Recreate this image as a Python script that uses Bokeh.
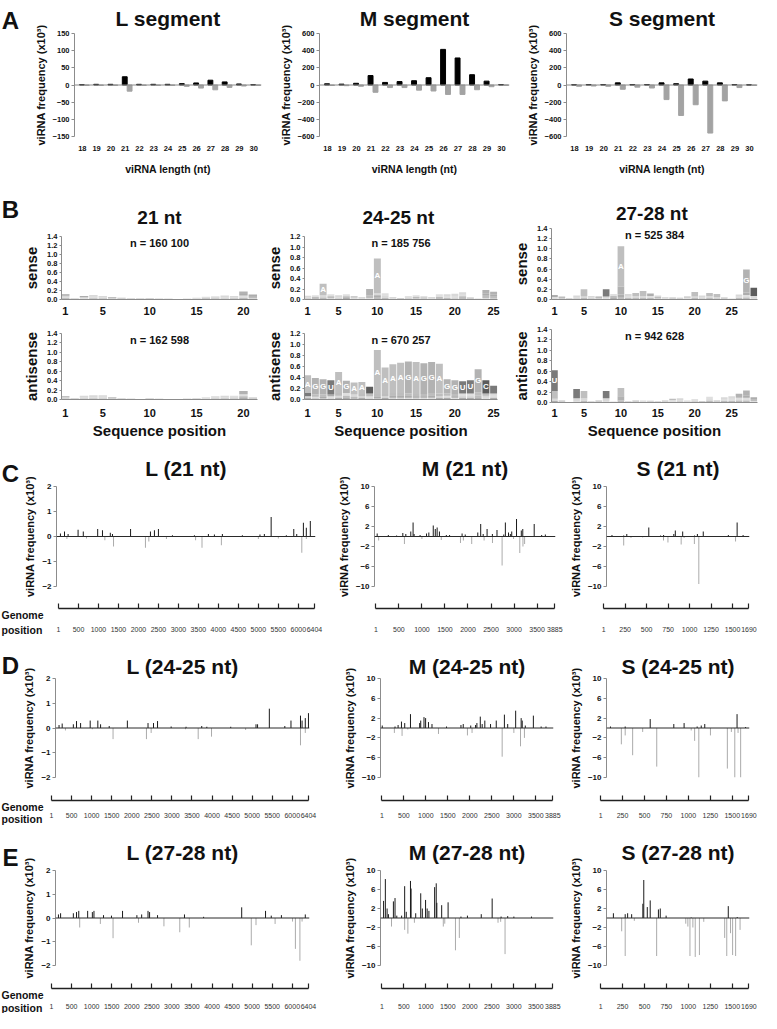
from bokeh.plotting import figure
from bokeh.models import Range1d, FixedTicker, Span, Label, ColumnDataSource, NumeralTickFormatter
from bokeh.layouts import column, row
from bokeh.transform import dodge
from bokeh.embed import file_html
from bokeh.resources import INLINE
from bokeh.core.properties import value

# ---------------- data: panel A (x10^3 reads) ----------------
lengths = [18, 19, 20, 21, 22, 23, 24, 25, 26, 27, 28, 29, 30]
L_len_sense = [1, 2, 2, 24, 2, 2, 2, 4, 6, 14, 9, 3, 1]
L_len_anti = [-1, -1, -1, -18, -1, -1, -1, -4, -9, -14, -7, -3, -1]
M_len_sense = [14, 10, 20, 110, 30, 40, 50, 85, 415, 315, 120, 45, 5]
M_len_anti = [-5, -8, -15, -85, -30, -30, -60, -70, -110, -110, -55, -20, -3]
S_len_sense = [3, 5, 5, 25, 5, 5, 25, 15, 70, 45, 25, 5, 2]
S_len_anti = [-15, -12, -15, -50, -25, -35, -170, -355, -230, -560, -185, -30, -5]
L_len_ticks = [150, 100, 50, 0, -50, -100, -150]
MS_len_ticks = [600, 400, 200, 0, -200, -400, -600]

# ---------------- data: panel B (logo stacks, bits x100, bottom -> top) ----------------
logo21_sense = ["C3 A4 U5", "A1 U1", "G2 A3 C3", "U3 A3 G4", "C2 A3 G3", "U1 A2 C2", "G1 A1 U2",
                "A1 G1 U1", "A1 U1", "A1 C1", "U1 A2", "A1 G1", "A1", "G1 A1", "U1 A2 G1",
                "C1 U2 A3", "G2 U2 A3", "U2 A3 G4", "C2 A3 G3", "U4 A5 C3 G6", "A3 U3 C5"]
logo21_anti = ["U2 A3 C2", "A1 G2", "U2 A3 G3", "C2 A3 G4", "U2 A4 G3", "A2 U2 C1", "A1 U1",
               "A1 G1", "A1", "A1 U1", "G1 A1", "A1", "U1", "A1 G1", "U1 A2", "G2 A3",
               "U2 A3 G2", "C2 A3 G3", "U2 G3 A3", "C3 U4 A4 G7", "A2 U2"]
logo2425_sense = ["U2 A3 G2", "C2 U3 A3", "U4 G4 A22", "G3 U3 A4", "U2 A3 G3", "C3 U3 A4", "G2 A2 U2",
                  "U1 A2 G2", "A3 U5 G12", "U4 C4 G4 A66", "U3 G4 A5", "U1 A2 G2", "A1 U1 G1",
                  "U2 A2 G2", "G2 U3 A3", "A2 U2 G2", "U1 A2 G2", "C2 U3 A5", "U3 A3 G4",
                  "U2 A4 G5", "C2 U4 A3 G5", "A2 U2", "U1 A1", "A3 U5 C3 G7", "A2 U4 C3 G6"]
logo2425_anti = ["C3 G3 U6 A32", "C2 A3 U4 G30", "A2 C3 U4 G28", "G3 A3 C3 U26", "C3 G4 U5 A38",
                 "C3 U4 A5 G22", "C2 U3 G4 A22", "C3 G3 U4 A22", "G3 A3 U5 C12", "G2 C3 U5 A80",
                 "C3 G3 U4 A48", "G3 C4 U5 A52", "G3 C4 U5 A55", "A3 C4 U4 G58", "G3 C3 U4 A58",
                 "A3 C3 U4 G56", "A3 C4 U5 G56", "C3 G3 U5 A54", "C3 A4 U4 G26", "A3 C3 U4 G25",
                 "C3 G4 A4 U22", "C3 G4 A4 U24", "C3 U4 A6 G42", "A3 G4 U4 C24", "C3 A4 G4 U14"]
logo2728_sense = ["G2 A3 C4", "A2 U4", "A1 G2", "U2 A3 G3", "U3 G3 A14", "U2 A3 G2", "A2 U2 C2",
                  "A3 G3 U14", "C3 U4 A4", "U5 C5 G15 A80", "U3 A4 G4", "U3 G4 A6", "U3 G4 A10",
                  "U3 A4 C5", "A2 U3 G3", "G2 A3", "A2 U2", "U2 A2", "G2 A2 U2", "U3 G3 A9",
                  "U2 A3 G3", "U3 G4 A6", "U2 G3 A6", "A2 U2", "U1 A1", "U3 A4 G3",
                  "U4 A5 C5 G45", "A3 G4 C16"]
logo2728_anti = ["C3 G4 A15 U40", "A2 U2", "A1", "A3 G5 U18", "U3 G5 A14", "A1 U1", "A2 U2",
                 "A3 G5 U14", "A2", "U4 G8 A16", "A1 U1", "A2 U2", "A2 G2", "U2 A2", "A1 U1",
                 "U2 A3", "G2 A3 U2", "U2 A3 G3", "A2 G2", "U2 A2 G2", "A2 U1", "U3 G3 A5",
                 "A2 U2", "U3 A3 G4", "U3 A4 G5", "U4 A5 G8", "U4 A5 C4 G10", "A3 U3 C4"]
logo_n = {"21s": "n = 160 100", "21a": "n = 162 598", "2425s": "n = 185 756",
          "2425a": "n = 670 257", "2728s": "n = 525 384", "2728a": "n = 942 628"}

# ---------------- data: panels C-E (genome position, x10^3 reads) ----------------
L_length, M_length, S_length = 6404, 3885, 1690
L_ruler = [1, 500, 1000, 1500, 2000, 2500, 3000, 3500, 4000, 4500, 5000, 5500, 6000, 6404]
M_ruler = [1, 500, 1000, 1500, 2000, 2500, 3000, 3500, 3885]
S_ruler = [1, 250, 500, 750, 1000, 1250, 1500, 1690]
L_gen_ticks = [2, 1, 0, -1, -2]
MS_gen_ticks = [10, 6, 2, -2, -6, -10]

C_L_pos_x = [48, 150, 240, 490, 620, 980, 1100, 1296, 1350, 1803, 2300, 2400, 2500, 2850, 3400, 3750, 3900, 4100, 4600, 5040, 5150, 5320, 5700, 5886, 5960, 6127, 6200, 6300]
C_L_pos_y = [0.12, 0.2, 0.1, 0.27, 0.2, 0.3, 0.25, 0.15, 0.1, 0.3, 0.2, 0.25, 0.3, 0.05, 0.05, 0.1, 0.08, 0.1, 0.05, 0.08, 0.1, 0.78, 0.05, 0.3, 0.1, 0.55, 0.35, 0.62]
C_L_neg_x = [210, 700, 1160, 1377, 2175, 2260, 2700, 3430, 3590, 4075, 5000, 5500, 6087, 6200]
C_L_neg_y = [-0.1, -0.08, -0.15, -0.4, -0.45, -0.2, -0.1, -0.15, -0.45, -0.35, -0.1, -0.08, -0.65, -0.1]

C_M_pos_x = [28, 270, 450, 585, 650, 758, 808, 830, 960, 1100, 1150, 1246, 1290, 1330, 1380, 1530, 1600, 1872, 1940, 2213, 2276, 2330, 2415, 2530, 2630, 2777, 2812, 2880, 2920, 2950, 3054, 3158, 3190, 3438, 3600, 3680]
C_M_pos_y = [0.6, 0.3, 0.2, 0.7, 0.5, 1.0, 2.8, 0.5, 0.3, 0.6, 0.8, 2.2, 1.5, 1.8, 1.0, 0.3, 0.3, 0.6, 0.4, 0.8, 2.5, 0.5, 1.5, 0.5, 1.3, 0.4, 2.8, 0.8, 0.5, 1.0, 3.5, 1.2, 1.5, 2.5, 0.3, 0.4]
C_M_neg_x = [60, 620, 1000, 1420, 1837, 1900, 2081, 2350, 2532, 2741, 2990, 3125, 3194, 3230]
C_M_neg_y = [-0.8, -1.5, -0.5, -0.7, -1.3, -0.8, -1.5, -0.8, -1.3, -5.8, -0.5, -3.3, -2.0, -1.5]

C_S_pos_x = [53, 193, 230, 493, 634, 670, 792, 810, 898, 1040, 1074, 1144, 1444, 1549, 1620]
C_S_pos_y = [0.3, 0.2, 0.5, 1.8, 0.2, 0.3, 0.5, 1.2, 1.0, 0.2, 0.5, 1.0, 0.3, 2.8, 0.3]
C_S_neg_x = [193, 280, 420, 669, 722, 880, 915, 1038, 1091, 1530]
C_S_neg_y = [-1.8, -0.3, -0.2, -0.8, -1.2, -1.6, -0.3, -1.5, -9.5, -1.0]

D_L_pos_x = [40, 120, 405, 486, 590, 835, 1030, 1100, 1320, 1783, 2310, 2450, 2553, 2900, 3280, 3680, 3810, 4420, 5065, 5105, 5405, 5800, 5957, 6200, 6240, 6322, 6403]
D_L_pos_y = [0.12, 0.18, 0.15, 0.28, 0.2, 0.3, 0.3, 0.15, 0.08, 0.3, 0.2, 0.2, 0.28, 0.06, 0.05, 0.08, 0.05, 0.05, 0.15, 0.15, 0.78, 0.08, 0.3, 0.5, 0.3, 0.4, 0.6]
D_L_neg_x = [203, 890, 1418, 2270, 2390, 3266, 3590, 3930, 4800, 6200, 6322]
D_L_neg_y = [-0.1, -0.05, -0.45, -0.45, -0.2, -0.05, -0.45, -0.35, -0.08, -0.7, -0.2]

D_M_pos_x = [10, 300, 370, 446, 520, 651, 860, 884, 958, 995, 1060, 1140, 1470, 1798, 1850, 2020, 2130, 2160, 2237, 2280, 2340, 2470, 2600, 2785, 2860, 3041, 3166, 3190, 3260, 3443, 3620, 3730]
D_M_pos_y = [0.5, 0.3, 0.6, 1.3, 1.0, 2.8, 1.0, 1.5, 2.2, 2.0, 1.2, 0.8, 0.3, 0.6, 0.8, 0.5, 0.6, 1.0, 2.3, 0.8, 1.5, 0.8, 1.5, 2.7, 0.8, 3.5, 2.0, 1.5, 0.5, 2.5, 0.3, 0.3]
D_M_neg_x = [285, 460, 590, 1287, 1945, 2050, 2734, 3000, 3151, 3240]
D_M_neg_y = [-1.0, -1.6, -0.3, -1.2, -1.5, -1.0, -5.8, -1.0, -3.7, -2.0]

D_S_pos_x = [35, 211, 510, 792, 915, 1071, 1120, 1162, 1548, 1650]
D_S_pos_y = [0.3, 0.3, 1.8, 0.8, 1.0, 0.3, 0.5, 0.8, 2.8, 0.2]
D_S_neg_x = [165, 211, 300, 420, 588, 1000, 1041, 1091, 1230, 1432, 1480, 1521, 1560, 1591]
D_S_neg_y = [-3.3, -1.5, -5.5, -0.8, -7.8, -0.5, -2.6, -10.0, -1.5, -8.2, -0.8, -10.0, -1.0, -10.0]

E_L_pos_x = [25, 80, 405, 486, 543, 770, 890, 931, 1175, 1378, 1660, 2026, 2148, 2310, 2350, 2553, 3240, 3728, 4700, 5308, 5454, 5713, 6322]
E_L_pos_y = [0.15, 0.2, 0.2, 0.25, 0.3, 0.3, 0.25, 0.3, 0.12, 0.1, 0.3, 0.12, 0.15, 0.3, 0.25, 0.12, 0.15, 0.05, 0.45, 0.3, 0.1, 0.12, 0.15]
E_L_neg_x = [567, 1094, 1418, 2067, 2716, 3120, 3363, 4944, 5065, 5552, 5997, 6070, 6185, 6240]
E_L_neg_y = [-0.4, -0.25, -0.85, -0.2, -0.35, -0.6, -0.4, -1.15, -0.3, -0.25, -0.15, -1.3, -1.8, -0.15]

E_M_pos_x = [40, 80, 120, 150, 263, 300, 340, 450, 519, 555, 651, 665, 770, 884, 920, 994, 1030, 1070, 1200, 1236, 1250, 1360, 1506, 1798, 1945, 2259, 2507, 2710, 2860, 3000, 3400]
E_M_pos_y = [3.6, 8.2, 2.0, 0.8, 3.5, 4.2, 0.5, 0.5, 6.7, 1.3, 7.8, 6.2, 1.0, 5.2, 2.0, 3.8, 2.0, 1.5, 6.5, 7.3, 3.2, 2.7, 3.3, 0.3, 0.5, 0.8, 4.1, 0.3, 0.4, 0.3, 0.3]
E_M_neg_x = [220, 519, 592, 740, 1397, 1430, 1673, 1761, 2640, 2700, 2800]
E_M_neg_y = [-1.8, -2.5, -3.3, -1.0, -1.8, -1.2, -6.8, -4.2, -1.0, -0.8, -7.6]

E_S_pos_x = [70, 211, 240, 288, 422, 433, 475, 510, 608, 630, 700, 1000, 1443, 1550]
E_S_pos_y = [1.0, 0.8, 1.0, 0.8, 3.0, 8.0, 2.3, 3.7, 1.8, 2.0, 0.5, 0.1, 2.5, 0.2]
E_S_neg_x = [169, 211, 320, 587, 935, 960, 985, 1020, 1048, 1098, 1150, 1400, 1425, 1470, 1495, 1531, 1584]
E_S_neg_y = [-2.8, -8.0, -0.6, -8.0, -1.2, -1.8, -8.0, -2.0, -8.2, -7.8, -0.8, -4.2, -8.0, -3.2, -7.8, -8.0, -2.5]

# ---------------- layout helpers ----------------
SX = 761 / 777
SY = 1013 / 1029
FONT = "Liberation Sans"
INK = "#111111"


def X(v):
    return int(round(v * SX))


def Y(v):
    return int(round(v * SY))


def base_fig(box, frame, x_range, y_range, x_axis="below", y_axis=True, titled=True):
    x0, x1, y0, y1 = box
    fx0, fx1, fy0, fy1 = frame
    p = figure(width=X(x1) - X(x0), height=Y(y1) - Y(y0), x_range=x_range, y_range=y_range,
               output_backend="svg", toolbar_location=None,
               title_location="above" if titled else None,
               x_axis_location=x_axis,
               y_axis_location="left" if y_axis else None)
    p.min_border_left = X(fx0) - X(x0)
    p.min_border_right = X(x1) - X(fx1)
    p.min_border_top = Y(fy0) - Y(y0)
    p.min_border_bottom = Y(y1) - Y(fy1)
    p.outline_line_color = None
    p.grid.visible = False
    p.background_fill_color = "white"
    p.border_fill_color = "white"
    return p


def style_title(t, size, align="center", standoff=0, offset=0):
    t.align = align
    t.offset = offset
    t.text_font = FONT
    t.text_font_style = "bold"
    t.text_font_size = size
    t.text_color = INK
    t.standoff = standoff


def letter_strip(box, letter, center_y):
    """Narrow blank figure whose title is the panel letter."""
    x0, x1, y0, y1 = box
    p = base_fig(box, (x0, x1, center_y + 14, y1), Range1d(0, 1), Range1d(0, 1),
                 x_axis=None, y_axis=False)
    p.title.text = letter
    style_title(p.title, "24px")
    return p


def style_axis(ax, label_size, tick_size, tick_bold=True, line="#8c8c8c"):
    ax.axis_line_color = line
    ax.major_tick_line_color = line
    ax.major_tick_out = 3
    ax.major_tick_in = 0
    ax.minor_tick_line_color = None
    ax.major_label_text_font = FONT
    ax.major_label_text_font_style = "bold" if tick_bold else "normal"
    ax.major_label_text_font_size = tick_size
    ax.major_label_text_color = INK
    ax.axis_label_text_font = FONT
    ax.axis_label_text_font_style = "bold"
    ax.axis_label_text_font_size = label_size
    ax.axis_label_text_color = INK
    ax.major_label_standoff = 2
    ax.axis_label_standoff = 3


def set_title(p, text, size, standoff):
    p.title.text = text
    style_title(p.title, size, standoff=standoff)


STRIP = 20  # width (reference px) of the strip that carries the panel letters

# ---------------- panel A ----------------
def length_panel(name, sense, anti, yticks, box, frame):
    ymax = yticks[0]
    p = base_fig(box, frame, Range1d(17.45, 30.55), Range1d(-ymax, ymax))
    set_title(p, name, "21px", 8)
    src = ColumnDataSource(dict(length=lengths, sense=sense, anti=anti))
    p.vbar(x=dodge("length", -0.03), top="sense", bottom=0, width=0.34, color="#000000", source=src)
    p.vbar(x=dodge("length", 0.31), top="anti", bottom=0, width=0.34, color="#a3a3a3", source=src)
    p.add_layout(Span(location=0, dimension="width", line_color="#8a8a8a", line_width=1))
    style_axis(p.yaxis[0], "11px", "7.5px")
    p.yaxis.ticker = FixedTicker(ticks=yticks)
    p.yaxis.axis_label = "viRNA frequency (x10\u00b3)"
    ax = p.xaxis[0]
    style_axis(ax, "10.5px", "7.5px")
    ax.ticker = FixedTicker(ticks=lengths)
    ax.axis_line_color = None
    ax.major_tick_line_color = None
    ax.major_label_standoff = 6
    ax.axis_label_standoff = 9
    ax.axis_label = "viRNA length (nt)"
    return p


sA = letter_strip((0, STRIP, 0, 180), "A", 13)
pA_L = length_panel("L segment", L_len_sense, L_len_anti, L_len_ticks, (STRIP, 270, 0, 180), (76, 266, 33, 143))
pA_M = length_panel("M segment", M_len_sense, M_len_anti, MS_len_ticks, (270, 524, 0, 180), (326, 520, 33, 143))
pA_S = length_panel("S segment", S_len_sense, S_len_anti, MS_len_ticks, (524, 777, 0, 180), (578, 773, 33, 143))

# ---------------- panel B ----------------
LETTER_COLORS = {"A": "#b8b8b8", "G": "#aaaaaa", "U": "#6c6c6c", "C": "#4a4a4a"}


def logo_panel(stacks, ymax, xticks, box, frame, ylabel, nlabel, title=None, title_standoff=0,
               xlabel=None, tick_standoff=4):
    npos = len(stacks)
    p = base_fig(box, frame, Range1d(0.6, npos + 0.5), Range1d(0, ymax), titled=title is not None)
    xs, bots, tops, cols, alphas = [], [], [], [], []
    tx, ty, tl = [], [], []
    for i, s in enumerate(stacks, start=1):
        b = 0.0
        for tok in s.split():
            h = int(tok[1:]) / 100.0
            xs.append(i)
            bots.append(b)
            tops.append(b + h)
            cols.append(LETTER_COLORS[tok[0]])
            alphas.append(0.9 if h >= 0.06 else 0.45)
            if h >= 0.2:
                tx.append(i)
                ty.append(b + h / 2)
                tl.append(tok[0])
            b += h
    src = ColumnDataSource(dict(left=[x - 0.45 for x in xs], right=[x + 0.45 for x in xs],
                                bottom=bots, top=tops, color=cols, alpha=alphas))
    p.quad(left="left", right="right", bottom="bottom", top="top", fill_color="color",
           fill_alpha="alpha", line_color=None, source=src)
    if tx:
        p.text(x=tx, y=ty, text=tl, text_font=value(FONT), text_font_style="bold",
               text_font_size="8px", text_color="white", text_align="center", text_baseline="middle")
    p.add_layout(Label(x=(npos + 1.1) / 2, y=ymax, text=nlabel, text_font=FONT, text_font_style="bold",
                       text_font_size="11px", text_color=INK, text_align="center", text_baseline="top"))
    ya = p.yaxis[0]
    style_axis(ya, "15px", "7.5px")
    ya.ticker = FixedTicker(ticks=[round(0.2 * k, 1) for k in range(int(round(ymax / 0.2)) + 1)])
    ya.formatter = NumeralTickFormatter(format="0.0")
    ya.major_tick_out = 2
    ya.axis_label = ylabel
    ya.axis_label_standoff = 4
    xa = p.xaxis[0]
    style_axis(xa, "15px", "11px")
    xa.ticker = FixedTicker(ticks=xticks)
    xa.major_tick_line_color = None
    xa.major_label_standoff = tick_standoff
    if xlabel:
        xa.axis_label = xlabel
        xa.axis_label_standoff = 2
    if title:
        set_title(p, title, "19px", title_standoff)
    return p


tick21 = [1, 5, 10, 15, 20]
tick25 = [1, 5, 10, 15, 20, 25]
sB = letter_strip((0, STRIP, 180, 448), "B", 212)
pB1s = logo_panel(logo21_sense, 1.4, tick21, (STRIP, 265, 180, 322), (57, 262, 240, 305), "sense",
                  logo_n["21s"], "21 nt", 17)
pB1a = logo_panel(logo21_anti, 1.4, tick21, (STRIP, 265, 322, 448), (57, 262, 338, 405), "antisense",
                  logo_n["21a"], xlabel="Sequence position", tick_standoff=6)
pB2s = logo_panel(logo2425_sense, 1.2, tick25, (265, 512, 180, 322), (310, 507, 240, 305), "sense",
                  logo_n["2425s"], "24-25  nt", 17)
pB2a = logo_panel(logo2425_anti, 1.2, tick25, (265, 512, 322, 448), (310, 507, 338, 405), "antisense",
                  logo_n["2425a"], xlabel="Sequence position", tick_standoff=6)
pB3s = logo_panel(logo2728_sense, 1.4, tick25, (512, 777, 180, 322), (563, 773, 232, 305), "sense",
                  logo_n["2728s"], "27-28  nt", 10)
pB3a = logo_panel(logo2728_anti, 1.4, tick25, (512, 777, 322, 448), (563, 773, 334, 409), "antisense",
                  logo_n["2728a"], xlabel="Sequence position", tick_standoff=3)


# ---------------- panels C-E ----------------
def genome_main(title, px, py, nx, ny, length, yticks, box, frame, title_standoff):
    span = length - 1
    xr = Range1d(1 - 0.008 * span, length + 0.004 * span)
    ymax = yticks[0]
    p = base_fig(box, frame, xr, Range1d(-ymax, ymax), x_axis=None)
    set_title(p, title, "21px", title_standoff)
    p.add_layout(Span(location=0, dimension="width", line_color="#2a2a2a", line_width=1))
    p.segment(x0="x", y0=0, x1="x", y1="y", source=ColumnDataSource(dict(x=nx, y=ny)),
              line_color="#ababab", line_width=1)
    p.segment(x0="x", y0=0, x1="x", y1="y", source=ColumnDataSource(dict(x=px, y=py)),
              line_color="#1a1a1a", line_width=1)
    ya = p.yaxis[0]
    style_axis(ya, "11px", "8px")
    ya.ticker = FixedTicker(ticks=yticks)
    ya.axis_label = "viRNA frequency (x10\u00b3)"
    ya.axis_label_standoff = 3
    return p


def genome_ruler(main, main_frame_x, box, line_y, label_y, ticks, length, caption=None):
    """Ruler below a genome plot: an axis (drawn on the frame's top edge, ticks pointing up)
    that shares the main plot's scale; the frame spans the whole box so that the tick
    labels and the 'Genome position' caption can sit inside it."""
    x0, x1, y0, y1 = box
    fx0, fx1 = main_frame_x
    a, b = main.x_range.start, main.x_range.end
    k = (b - a) / (X(fx1) - X(fx0))  # data units per pixel
    xr = Range1d(a - k * (X(fx0) - X(x0)), b + k * (X(x1) - X(fx1)))
    H = Y(y1) - Y(line_y)
    r = base_fig(box, (x0, x1, line_y, y1), xr, Range1d(0, H), x_axis="above", y_axis=False, titled=False)
    ax = r.xaxis[0]
    ax.ticker = FixedTicker(ticks=ticks)
    ax.bounds = (1, length)
    ax.axis_line_color = "#222222"
    ax.axis_line_width = 1.3
    ax.major_tick_line_color = "#222222"
    ax.major_tick_line_width = 1.2
    ax.major_tick_out = 5
    ax.major_tick_in = 0
    ax.minor_tick_line_color = None
    ax.major_label_standoff = 0
    ax.major_label_overrides = {t: "" for t in ticks}
    ly = H - (Y(label_y) - Y(line_y))
    r.text(x=ticks, y=[ly] * len(ticks), text=[str(t) for t in ticks], text_font=value(FONT),
           text_font_size="7px", text_color="#333333", text_align="center", text_baseline="middle")
    if caption:
        for txt, cy in caption:
            r.add_layout(Label(x=xr.start + k, y=H - (Y(cy) - Y(line_y)), text=txt, text_font=FONT,
                               text_font_style="bold", text_font_size="10.5px", text_color=INK,
                               text_align="left", text_baseline="middle"))
    return r


def genome_row(letter, letter_y, titles, data, y_main, y_ruler, frames_x, title_standoff,
               genome_y, position_y):
    (ym0, ym1, yf0, yf1) = y_main
    (yr0, yr1, line_y, label_y) = y_ruler
    main_x = [(STRIP, 332), (332, 578), (578, 777)]
    ruler_x = [(0, 332), (332, 578), (578, 777)]
    lengths_ = [L_length, M_length, S_length]
    ticks_ = [L_gen_ticks, MS_gen_ticks, MS_gen_ticks]
    rulers_ = [L_ruler, M_ruler, S_ruler]
    mains = [letter_strip((0, STRIP, ym0, ym1), letter, letter_y)]
    rulers = []
    for k in range(3):
        fx = frames_x[k]
        px, py, nx, ny = data[k]
        p = genome_main(titles[k], px, py, nx, ny, lengths_[k], ticks_[k],
                        (main_x[k][0], main_x[k][1], ym0, ym1), (fx[0], fx[1], yf0, yf1), title_standoff)
        cap = [("Genome", genome_y), ("position", position_y)] if k == 0 else None
        r = genome_ruler(p, fx, (ruler_x[k][0], ruler_x[k][1], yr0, yr1), line_y, label_y,
                         rulers_[k], lengths_[k], cap)
        mains.append(p)
        rulers.append(r)
    return row(*mains), row(*rulers)


rowC_main, rowC_ruler = genome_row(
    "C", 468, ["L (21 nt)", "M (21 nt)", "S (21 nt)"],
    [(C_L_pos_x, C_L_pos_y, C_L_neg_x, C_L_neg_y), (C_M_pos_x, C_M_pos_y, C_M_neg_x, C_M_neg_y),
     (C_S_pos_x, C_S_pos_y, C_S_neg_x, C_S_neg_y)],
    (448, 612, 494, 595), (612, 648, 618, 639), [(57, 322), (382, 567), (615, 765)], 13, 624, 639)

rowD_main, rowD_ruler = genome_row(
    "D", 666, ["L (24-25 nt)", "M (24-25 nt)", "S (24-25 nt)"],
    [(D_L_pos_x, D_L_pos_y, D_L_neg_x, D_L_neg_y), (D_M_pos_x, D_M_pos_y, D_M_neg_x, D_M_neg_y),
     (D_S_pos_x, D_S_pos_y, D_S_neg_x, D_S_neg_y)],
    (648, 806, 689, 789), (806, 838, 813, 828), [(50, 315), (388, 565), (612, 765)], 2, 819, 831)

rowE_main, rowE_ruler = genome_row(
    "E", 862, ["L (27-28 nt)", "M (27-28 nt)", "S (27-28 nt)"],
    [(E_L_pos_x, E_L_pos_y, E_L_neg_x, E_L_neg_y), (E_M_pos_x, E_M_pos_y, E_M_neg_x, E_M_neg_y),
     (E_S_pos_x, E_S_pos_y, E_S_neg_x, E_S_neg_y)],
    (838, 996, 884, 980), (996, 1029, 1004, 1022), [(50, 315), (388, 565), (612, 765)], 14, 1010, 1023)

layout = column(
    row(sA, pA_L, pA_M, pA_S),
    row(sB, column(pB1s, pB1a), column(pB2s, pB2a), column(pB3s, pB3a)),
    rowC_main, rowC_ruler,
    rowD_main, rowD_ruler,
    rowE_main, rowE_ruler,
)

open("out.html", "w").write(file_html(layout, INLINE))
